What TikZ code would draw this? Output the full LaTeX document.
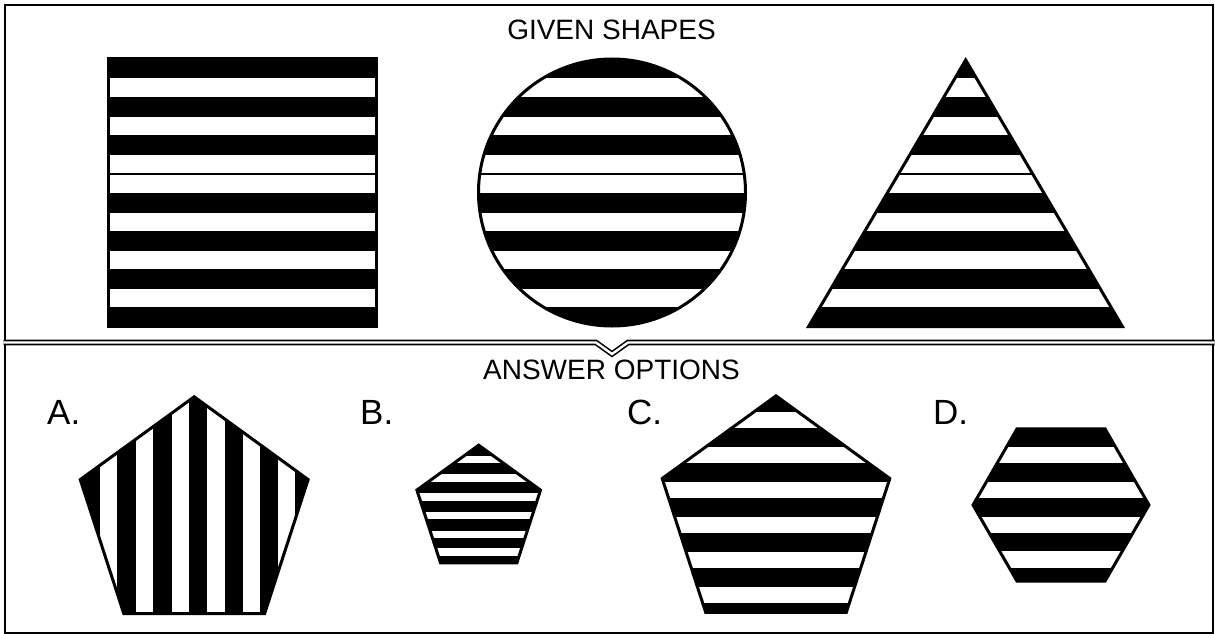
\documentclass[tikz,border=0pt]{standalone}
\usepackage{fontspec}
\setmainfont{Liberation Sans}
\begin{document}
\begin{tikzpicture}[x=1pt,y=-1pt,
  shapeline/.style={line width=3pt, line join=miter},
  frameline/.style={line width=2.2pt},
  title/.style={anchor=base, inner sep=0pt, font=\fontsize{28}{30}\selectfont},
  optlabel/.style={anchor=base west, inner sep=0pt, font=\fontsize{35}{38}\selectfont}]
\useasboundingbox (0,0) rectangle (1215,634);
\fill[white] (0,0) rectangle (1215,634);

% frame
\draw[frameline] (5,5) rectangle (1213,633);
\draw[line width=1.6pt, double=white, double distance=2.4pt, line join=miter]
  (3.5,342.5) -- (596,342.5) -- (612,354) -- (628,342.5) -- (1214.5,342.5);

% titles
\node[title] (given) at (611.5,40) {GIVEN SHAPES};
\node[title] (answer) at (611.5,379) {ANSWER OPTIONS};

% option labels
\node[optlabel] (la) at (47,424) {A.};
\node[optlabel] (lb) at (360,424) {B.};
\node[optlabel] (lc) at (627,424) {C.};
\node[optlabel] (ld) at (933,424) {D.};

% ---- square
\begin{scope}
\clip (108.5,58.5) rectangle (376.5,326.5);
\fill (100,50) rectangle (385,335);
\foreach \a/\b in {78/96.5,117/134.5,155/172.6,175/192.5,213/230.5,251/268.5,289/306.5}
  \fill[white] (100,\a) rectangle (385,\b);
\end{scope}
\draw[shapeline] (108.5,58.5) rectangle (376.5,326.5);

% ---- circle
\begin{scope}
\clip (612,192.5) circle[radius=133.5pt];
\fill (470,50) rectangle (755,335);
\foreach \a/\b in {78/96.5,117/134.5,155/172.6,175/192.5,213/230.5,251/268.5,289/306.5}
  \fill[white] (470,\a) rectangle (755,\b);
\end{scope}
\draw[shapeline] (612,192.5) circle[radius=133.5pt];

% ---- triangle
\begin{scope}
\clip (808.6,326.5) -- (1122.4,326.5) -- (965.7,60) -- cycle;
\fill (800,50) rectangle (1130,335);
\foreach \a/\b in {78/96.5,117/134.5,155/172.6,175/192.5,213/230.5,251/268.5,289/306.5}
  \fill[white] (800,\a) rectangle (1130,\b);
\end{scope}
\draw[shapeline] (808.6,326.5) -- (1122.4,326.5) -- (965.7,60) -- cycle;

% ---- pentagon A (vertical stripes)
\begin{scope}
\clip (194.2,396.8) -- (308.14,479.58) -- (264.62,613.52) -- (123.78,613.52) -- (80.26,479.58) -- cycle;
\fill (70,385) rectangle (320,620);
\foreach \a/\b in {100/117.3,136/153.3,171.7/189,207.3/225,243.3/260,278.3/295}
  \fill[white] (\a,385) rectangle (\b,620);
\end{scope}
\draw[shapeline] (194.2,396.8) -- (308.14,479.58) -- (264.62,613.52) -- (123.78,613.52) -- (80.26,479.58) -- cycle;

% ---- pentagon B
\begin{scope}
\clip (478.7,445.2) -- (540.52,490.11) -- (516.91,562.79) -- (440.49,562.79) -- (416.88,490.11) -- cycle;
\fill (405,435) rectangle (550,570);
\foreach \a/\b in {455.7/463.3,474/481.7,492.7/500.7,511.7/519.3,530.7/538.3,548.3/556.3}
  \fill[white] (405,\a) rectangle (550,\b);
\end{scope}
\draw[shapeline] (478.7,445.2) -- (540.52,490.11) -- (516.91,562.79) -- (440.49,562.79) -- (416.88,490.11) -- cycle;

% ---- pentagon C
\begin{scope}
\clip (776,395.85) -- (889.8,478.53) -- (846.33,612.3) -- (705.67,612.3) -- (662.2,478.53) -- cycle;
\fill (650,385) rectangle (900,620);
\foreach \a/\b in {411.7/428.3,446.7/463.3,481.7/498.3,516.7/533.3,551.7/568.3,586.7/603.3}
  \fill[white] (650,\a) rectangle (900,\b);
\end{scope}
\draw[shapeline] (776,395.85) -- (889.8,478.53) -- (846.33,612.3) -- (705.67,612.3) -- (662.2,478.53) -- cycle;

% ---- hexagon D
\begin{scope}
\clip (1017,428.8) -- (1105,428.8) -- (1149,505) -- (1105,581.2) -- (1017,581.2) -- (973,505) -- cycle;
\fill (960,420) rectangle (1160,590);
\foreach \a/\b in {446.7/463.3,481.7/498.3,516.7/532.7,550.7/567.7}
  \fill[white] (960,\a) rectangle (1160,\b);
\end{scope}
\draw[shapeline] (1017,428.8) -- (1105,428.8) -- (1149,505) -- (1105,581.2) -- (1017,581.2) -- (973,505) -- cycle;
\end{tikzpicture}
\end{document}
